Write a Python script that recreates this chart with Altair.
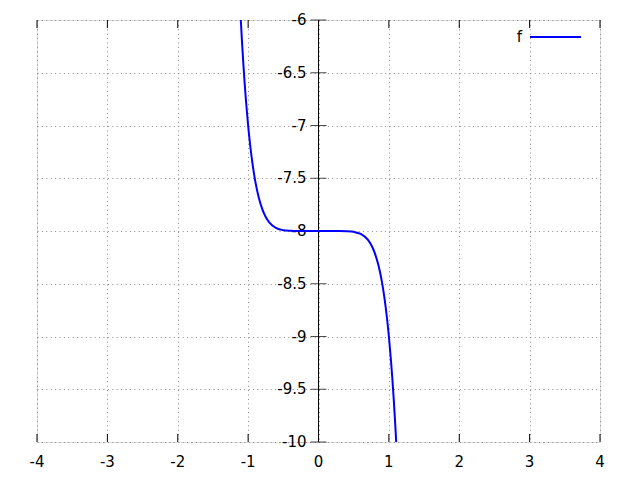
import altair as alt
import pandas as pd

# curve values
xs = [-1.104, -1.09, -1.07, -1.05, -1.03, -1.0, -0.97, -0.94, -0.9, -0.85, -0.8, -0.75,
      -0.7, -0.6, -0.5, -0.4, -0.3, 0.0, 0.3, 0.4, 0.5, 0.6, 0.7, 0.75, 0.8, 0.85, 0.9,
      0.94, 0.97, 1.0, 1.03, 1.05, 1.07, 1.09, 1.104]
ys = [-6.0, -6.172, -6.394, -6.593, -6.770, -7.0, -7.192, -7.352, -7.522, -7.679, -7.790,
      -7.867, -7.918, -7.972, -7.992, -7.998, -8.0, -8.0, -8.0, -8.002, -8.008, -8.028,
      -8.082, -8.133, -8.210, -8.321, -8.478, -8.648, -8.808, -9.0, -9.230, -9.407,
      -9.606, -9.828, -10.0]

x_ticks = [-4, -3, -2, -1, 0, 1, 2, 3, 4]
y_ticks = [-10, -9.5, -9, -8.5, -8, -7.5, -7, -6.5, -6]
x_labels = ["-4", "-3", "-2", "-1", "0", "1", "2", "3", "4"]
y_labels = ["-10", "-9.5", "-9", "-8.5", "-8", "-7.5", "-7", "-6.5", "-6"]
series_name = "f"

W, H = 563, 422
FONT = "DejaVu Sans"
FS = 15

curve = pd.DataFrame({"x": xs, "y": ys})
xt = pd.DataFrame({"x": x_ticks, "lab": x_labels})
yt = pd.DataFrame({"y": y_ticks, "lab": y_labels, "x": [0] * len(y_ticks)})

xscale = alt.Scale(domain=[-4, 4], nice=False, zero=False)
yscale = alt.Scale(domain=[-10, -6], nice=False, zero=False)

grid_x = alt.Axis(values=x_ticks, grid=True, gridDash=[1, 3.4], gridColor="#8a8a8a",
                  gridWidth=1, labels=False, ticks=False, domain=False, title=None)
grid_y = alt.Axis(values=y_ticks, grid=True, gridDash=[1, 3.4], gridColor="#8a8a8a",
                  gridWidth=1, labels=False, ticks=False, domain=False, title=None)

base_grid = alt.Chart(curve).mark_point(opacity=0).encode(
    x=alt.X("x:Q", scale=xscale, axis=grid_x),
    y=alt.Y("y:Q", scale=yscale, axis=grid_y),
)

line = alt.Chart(curve).mark_line(color="#0000ff", strokeWidth=2, interpolate="monotone", clip=True).encode(
    x=alt.X("x:Q", scale=xscale),
    y=alt.Y("y:Q", scale=yscale),
    order=alt.Order("x:Q"),
)

# y axis line at x = 0
yaxis_line = alt.Chart(pd.DataFrame({"x": [0]})).mark_rule(color="black", strokeWidth=1).encode(
    x=alt.X("x:Q", scale=xscale)
)
yaxis_ticks = alt.Chart(yt).mark_tick(orient="horizontal", size=16, thickness=1, color="black").encode(
    x=alt.X("x:Q", scale=xscale),
    y=alt.Y("y:Q", scale=yscale),
)
yaxis_labels = alt.Chart(yt).mark_text(align="right", baseline="middle", dx=-12, font=FONT,
                                       fontSize=FS, color="black").encode(
    x=alt.X("x:Q", scale=xscale),
    y=alt.Y("y:Q", scale=yscale),
    text="lab:N",
)

xticks_bottom = alt.Chart(xt).mark_rule(color="black", strokeWidth=1).encode(
    x=alt.X("x:Q", scale=xscale), y=alt.value(H), y2=alt.value(H - 8)
)
xticks_top = alt.Chart(xt).mark_rule(color="black", strokeWidth=1).encode(
    x=alt.X("x:Q", scale=xscale), y=alt.value(0), y2=alt.value(8)
)
xaxis_labels = alt.Chart(xt).mark_text(align="center", baseline="middle", font=FONT,
                                       fontSize=FS, color="black").encode(
    x=alt.X("x:Q", scale=xscale), y=alt.value(H + 20), text="lab:N"
)

leg = pd.DataFrame({"name": [series_name]})
legend_line = alt.Chart(leg).mark_rule(color="#0000ff", strokeWidth=2).encode(
    x=alt.value(493), x2=alt.value(544), y=alt.value(17)
)
legend_text = alt.Chart(leg).mark_text(align="right", baseline="middle", font=FONT,
                                       fontSize=FS, color="black").encode(
    x=alt.value(485), y=alt.value(17), text="name:N"
)

chart = alt.layer(
    base_grid, yaxis_line, yaxis_ticks, yaxis_labels, xticks_bottom, xticks_top,
    xaxis_labels, line, legend_line, legend_text
).properties(
    width=W, height=H,
    autosize=alt.AutoSizeParams(type="none"),
    padding={"left": 29, "top": 12, "right": 20, "bottom": 30},
).configure_view(stroke=None).configure(background="white")

chart.save("out.html", embed_options={"renderer": "svg", "actions": False})
